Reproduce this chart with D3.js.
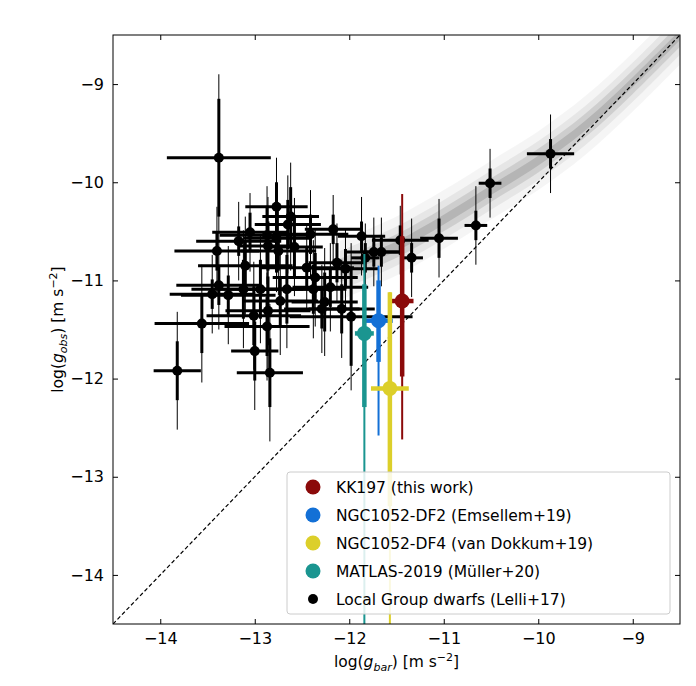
<!DOCTYPE html>
<html><head><meta charset="utf-8">
<script src="https://cdn.jsdelivr.net/npm/d3@7"></script>
<style>body{margin:0;background:#fff}text{font-family:"DejaVu Sans",sans-serif}</style>
</head><body><svg id="c" width="696" height="686"></svg>
<script>
// Local Group dwarfs: log gbar, log gobs, x half-err, thick y err, thin y err
var gbar = [-13.38,-12.77,-12.62,-12.65,-13.05,-13.17,-12.87,-12.77,-13.40,-12.86,-12.75,-12.58,-12.41,-12.17,-11.87,-13.10,-12.45,-12.13,-12.04,-11.83,-11.74,-11.66,-11.46,-11.34,-12.36,-13.38,-13.45,-13.28,-13.12,-12.94,-12.66,-12.38,-12.20,-12.26,-12.73,-13.01,-12.86,-12.29,-12.08,-11.98,-12.87,-13.56,-13.00,-13.82,-12.84,-11.05,-10.66,-10.51,-9.87]
var gobs = [-9.75,-10.25,-10.35,-10.43,-10.51,-10.60,-10.54,-10.57,-10.70,-10.65,-10.70,-10.66,-10.53,-10.48,-10.55,-10.85,-10.87,-10.82,-10.88,-10.77,-10.71,-10.71,-10.59,-10.77,-10.97,-11.05,-11.14,-11.15,-11.09,-11.09,-11.09,-11.09,-11.07,-11.22,-11.21,-11.36,-11.31,-11.29,-11.29,-11.37,-11.47,-11.44,-11.72,-11.92,-11.94,-10.57,-10.44,-10.01,-9.71]
var ex = [0.55,0.33,0.3,0.35,0.4,0.45,0.5,0.35,0.45,0.3,0.4,0.3,0.4,0.3,0.25,0.5,0.5,0.3,0.35,0.15,0.3,0.2,0.3,0.12,0.45,0.45,0.45,0.5,0.55,0.45,0.5,0.35,0.4,0.35,0.4,0.5,0.45,0.4,0.35,0.65,0.45,0.5,0.25,0.25,0.35,0.2,0.12,0.12,0.25]
var ey1 = [0.6,0.25,0.3,0.25,0.2,0.15,0.3,0.35,0.2,0.25,0.2,0.3,0.2,0.15,0.15,0.25,0.2,0.2,0.2,0.15,0.15,0.15,0.15,0.15,0.25,0.2,0.15,0.2,0.3,0.3,0.35,0.25,0.2,0.3,0.25,0.3,0.35,0.2,0.25,0.5,0.3,0.3,0.3,0.3,0.35,0.2,0.15,0.15,0.15]
var ey2 = [0.85,0.5,0.55,0.5,0.4,0.4,0.5,0.55,0.45,0.5,0.45,0.5,0.45,0.35,0.4,0.5,0.45,0.4,0.4,0.35,0.35,0.35,0.35,0.4,0.5,0.45,0.4,0.5,0.6,0.55,0.6,0.5,0.45,0.55,0.55,0.55,0.6,0.45,0.5,0.75,0.55,0.6,0.6,0.6,0.7,0.4,0.4,0.35,0.4]
// highlighted galaxies
var names = ["KK197 (this work)","NGC1052-DF2 (Emsellem+19)","NGC1052-DF4 (van Dokkum+19)","MATLAS-2019 (Müller+20)"]
var colors = ["#8b0a0a","#1370d6","#dccf2a","#1a9590"]
var hx = [-11.44,-11.69,-11.57,-11.84]
var hy = [-11.21,-11.41,-12.10,-11.54]
var hex = [0.12,0.15,0.2,0.1]
var hthick = [[-10.55,-11.98],[-11.0,-11.83],[-11.12,-13.3],[-11.04,-12.29]]
var hthin = [[-10.12,-12.62],[-10.85,-12.58],[-11.12,-15],[-10.73,-15]]
// ridge of the background density (log gbar, log gobs)
var ridgeX = [-12.1,-11.5,-11.0,-10.5,-10.0,-9.5,-9.0,-8.5]
var ridgeY = [-10.9,-10.65,-10.38,-10.08,-9.78,-9.42,-8.98,-8.5]
var ticks = [-14,-13,-12,-11,-10,-9]

var svg = d3.select("#c")
var L=113,R=680,T=35,B=624
var x = d3.scaleLinear().domain([-14.5,-8.5]).range([L,R])
var y = d3.scaleLinear().domain([-14.5,-8.5]).range([B,T])
var g = svg.append("g")
svg.append("defs").append("clipPath").attr("id","cp").append("rect").attr("x",L).attr("y",T).attr("width",R-L).attr("height",B-T)
g.attr("clip-path","url(#cp)")

// density band
var ridge = ridgeX.map((v,i)=>[v,ridgeY[i]])
;[[0.3,0.04],[0.2,0.06],[0.12,0.1],[0.05,0.12]].forEach(function(w){
  g.append("path").datum(ridge)
   .attr("d", d3.area().x(d=>x(d[0])).y0(d=>y(d[1]-w[0])).y1(d=>y(d[1]+w[0])).curve(d3.curveCatmullRom))
   .attr("fill","#000").attr("opacity",w[1])
})
// 1:1 line
g.append("line").attr("x1",x(-14.5)).attr("y1",y(-14.5)).attr("x2",x(-8.5)).attr("y2",y(-8.5))
 .attr("stroke","#000").attr("stroke-width",1.2).attr("stroke-dasharray","4,2.5")

// black points
gbar.forEach(function(v,i){
  var c=g.append("g")
  c.append("line").attr("x1",x(v)).attr("x2",x(v)).attr("y1",y(gobs[i]+ey2[i])).attr("y2",y(gobs[i]-ey2[i])).attr("stroke","#000").attr("stroke-width",1)
  c.append("line").attr("x1",x(v)).attr("x2",x(v)).attr("y1",y(gobs[i]+ey1[i])).attr("y2",y(gobs[i]-ey1[i])).attr("stroke","#000").attr("stroke-width",3)
  c.append("line").attr("x1",x(v-ex[i])).attr("x2",x(v+ex[i])).attr("y1",y(gobs[i])).attr("y2",y(gobs[i])).attr("stroke","#000").attr("stroke-width",3)
  c.append("circle").attr("cx",x(v)).attr("cy",y(gobs[i])).attr("r",5).attr("fill","#000")
})
// coloured points
hx.forEach(function(v,i){
  var c=g.append("g")
  c.append("line").attr("x1",x(v)).attr("x2",x(v)).attr("y1",y(hthin[i][0])).attr("y2",y(hthin[i][1])).attr("stroke",colors[i]).attr("stroke-width",2)
  c.append("line").attr("x1",x(v)).attr("x2",x(v)).attr("y1",y(hthick[i][0])).attr("y2",y(hthick[i][1])).attr("stroke",colors[i]).attr("stroke-width",4.5)
  c.append("line").attr("x1",x(v-hex[i])).attr("x2",x(v+hex[i])).attr("y1",y(hy[i])).attr("y2",y(hy[i])).attr("stroke",colors[i]).attr("stroke-width",4.5)
  c.append("circle").attr("cx",x(v)).attr("cy",y(hy[i])).attr("r",7.5).attr("fill",colors[i])
})

// frame & axes
function fmt(d){return "\u2212"+Math.abs(d)}
svg.append("g").attr("transform","translate(0,"+B+")").call(d3.axisBottom(x).tickValues(ticks).tickSizeInner(-5).tickSizeOuter(0).tickPadding(9).tickFormat(fmt))
svg.append("g").attr("transform","translate(0,"+T+")").call(d3.axisTop(x).tickValues(ticks).tickSizeInner(-5).tickSizeOuter(0).tickFormat(""))
svg.append("g").attr("transform","translate("+L+",0)").call(d3.axisLeft(y).tickValues(ticks).tickSizeInner(-5).tickSizeOuter(0).tickPadding(9).tickFormat(fmt))
svg.append("g").attr("transform","translate("+R+",0)").call(d3.axisRight(y).tickValues(ticks).tickSizeInner(-5).tickSizeOuter(0).tickFormat(""))
svg.selectAll(".domain").remove()
svg.selectAll(".tick text").attr("font-size",16).attr("fill","#000").style("font-family","DejaVu Sans")
svg.append("rect").attr("x",L).attr("y",T).attr("width",R-L).attr("height",B-T).attr("fill","none").attr("stroke","#000").attr("stroke-width",1)

var xl=svg.append("text").attr("x",(L+R)/2).attr("y",667).attr("text-anchor","middle").attr("font-size",15.5)
xl.append("tspan").text("log(")
xl.append("tspan").attr("font-style","italic").text("g")
xl.append("tspan").attr("font-size",11).attr("font-style","italic").attr("dy",4).text("bar")
xl.append("tspan").attr("dy",-4).text(") [m s")
xl.append("tspan").attr("font-size",11).attr("dy",-6).text("\u22122")
xl.append("tspan").attr("dy",6).text("]")
var yl=svg.append("text").attr("transform","translate(63,"+((T+B)/2)+") rotate(-90)").attr("text-anchor","middle").attr("font-size",15.5)
yl.append("tspan").text("log(")
yl.append("tspan").attr("font-style","italic").text("g")
yl.append("tspan").attr("font-size",11).attr("font-style","italic").attr("dy",4).text("obs")
yl.append("tspan").attr("dy",-4).text(") [m s")
yl.append("tspan").attr("font-size",11).attr("dy",-6).text("\u22122")
yl.append("tspan").attr("dy",6).text("]")

// legend
var lg=svg.append("g")
lg.append("rect").attr("x",287).attr("y",472).attr("width",383).attr("height",142).attr("rx",3).attr("fill","#fff").attr("fill-opacity",0.85).attr("stroke","#ccc")
var labs=names.concat(["Local Group dwarfs (Lelli+17)"]), cols=colors.concat(["#000"])
labs.forEach(function(t,i){
  var yy=487+i*28
  lg.append("circle").attr("cx",313).attr("cy",yy).attr("r",i<4?7.5:5).attr("fill",cols[i])
  lg.append("text").attr("x",336).attr("y",yy+5.5).attr("font-size",15.5).text(t)
})
</script></body></html>
